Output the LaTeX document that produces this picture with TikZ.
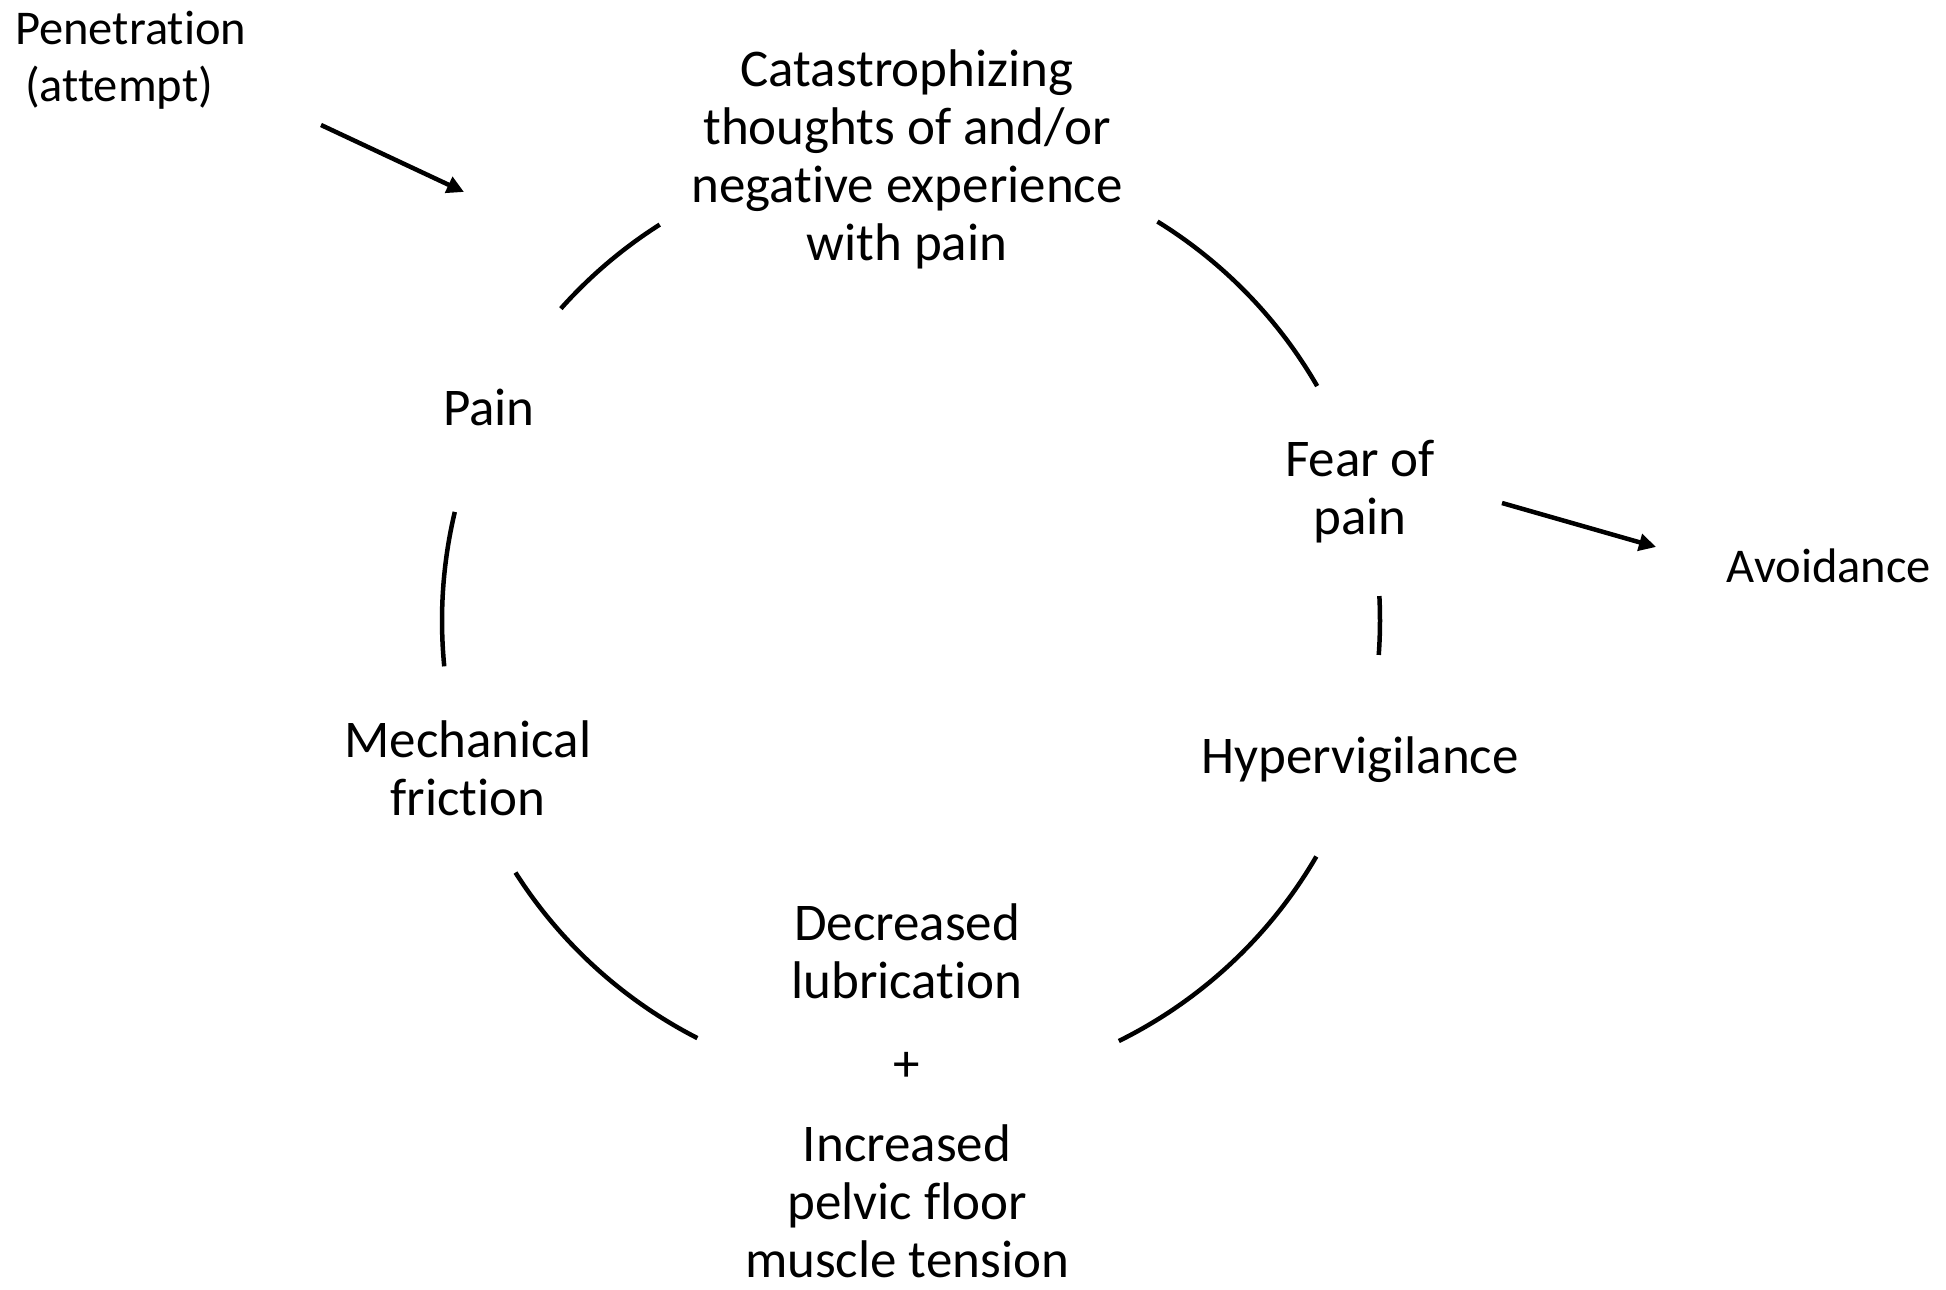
\documentclass[tikz,border=0pt]{standalone}
\usepackage{fontspec}
\setmainfont{Carlito}[Ligatures=NoCommon]
\usetikzlibrary{arrows.meta}
\begin{document}
\begin{tikzpicture}[x=1pt,y=1pt,
  lbl/.style={anchor=base,align=center,inner sep=0pt,font=\fontsize{53}{58}\selectfont},
  sidelbl/.style={lbl,font=\fontsize{48.5}{57}\selectfont},
  ring/.style={line width=4.5pt},
  arr/.style={line width=4.5pt,-{Triangle[length=17pt,width=17pt]}}]
\useasboundingbox (0,0) rectangle (1946,1290);
\coordinate (C) at (911,669.4);
\def\R{469}
% texts (base anchor = baseline of last line)
\node[sidelbl,anchor=base west,align=left] (pen) at (15,1188) {Penetration\\\hspace*{10pt}(attempt)};
\node[lbl] (cat) at (907,1029) {Catastrophizing\\thoughts of and/or\\negative experience\\with pain};
\node[lbl] (pain) at (489,864) {Pain};
\node[lbl] (fear) at (1360,755) {Fear of\\pain};
\node[sidelbl] (avoid) at (1829,707) {Avoidance};
\node[lbl] (hyper) at (1360,516) {Hypervigilance};
\node[lbl] (mech) at (468,474) {Mechanical\\friction};
\node[lbl] (dec) at (907,291) {Decreased\\lubrication};
\node[lbl] (plus) at (907,208) {+};
\node[lbl] (inc) at (907,12) {Increased\\pelvic floor\\muscle tension};
% cycle arcs
\draw[ring] ([shift={(138.3:\R)}]C) arc[start angle=138.3,end angle=122.4,radius=\R];
\draw[ring] ([shift={(58.3:\R)}]C) arc[start angle=58.3,end angle=30,radius=\R];
\draw[ring] ([shift={(3:\R)}]C) arc[start angle=3,end angle=-4.2,radius=\R];
\draw[ring] ([shift={(-30.2:\R)}]C) arc[start angle=-30.2,end angle=-63.7,radius=\R];
\draw[ring] ([shift={(-117.1:\R)}]C) arc[start angle=-117.1,end angle=-147.5,radius=\R];
\draw[ring] ([shift={(185.6:\R)}]C) arc[start angle=185.6,end angle=166.6,radius=\R];
% arrows
\coordinate (penS) at (321,1165);
\coordinate (penE) at (464,1098);
\coordinate (avS) at (1502,787);
\coordinate (avE) at (1656,743);
\draw[arr] (penS) -- (penE);
\draw[arr] (avS) -- (avE);
\end{tikzpicture}
\end{document}
